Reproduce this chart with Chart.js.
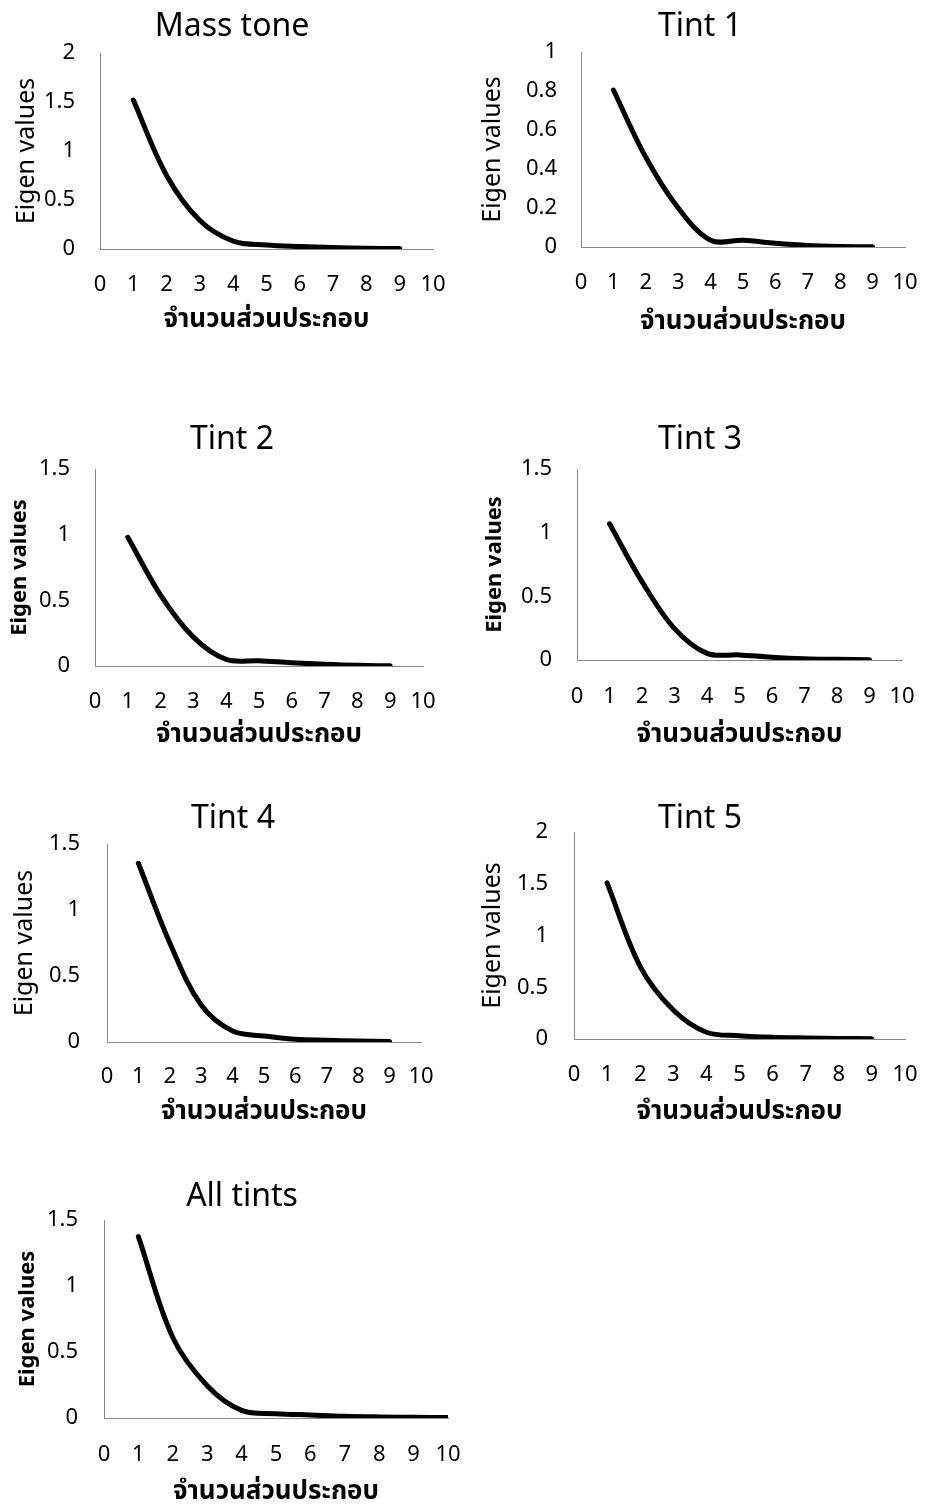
<!DOCTYPE html>
<html>
<head>
<meta charset="utf-8">
<script src="https://cdn.jsdelivr.net/npm/chart.js@4.4.1/dist/chart.umd.min.js"></script>
<style>
  html, body { margin: 0; padding: 0; background: #ffffff; }
  body { width: 925px; height: 1504px; position: relative; overflow: hidden; }
  canvas { position: absolute; }
</style>
</head>
<body>
<script>
// ---- data ----
const components9 = [1, 2, 3, 4, 5, 6, 7, 8, 9];
const components10 = [1, 2, 3, 4, 5, 6, 7, 8, 9, 10];
const massTone = [1.52, 0.75, 0.29, 0.08, 0.04, 0.025, 0.015, 0.008, 0.004];
const tint1 = [0.805, 0.46, 0.2, 0.035, 0.034, 0.019, 0.008, 0.003, 0.001];
const tint2 = [0.98, 0.54, 0.22, 0.05, 0.04, 0.025, 0.013, 0.005, 0.002];
const tint3 = [1.07, 0.615, 0.246, 0.052, 0.04, 0.022, 0.01, 0.005, 0.002];
const tint4 = [1.354, 0.75, 0.28, 0.083, 0.045, 0.02, 0.013, 0.008, 0.003];
const tint5 = [1.508, 0.7, 0.28, 0.065, 0.032, 0.016, 0.01, 0.006, 0.003];
const allTints = [1.374, 0.61, 0.245, 0.058, 0.033, 0.023, 0.013, 0.008, 0.005, 0.003];
const chartTitles = ['Mass tone', 'Tint 1', 'Tint 2', 'Tint 3', 'Tint 4', 'Tint 5', 'All tints'];
const yAxisTitle = 'Eigen values';
const xAxisTitle = 'จำนวนส่วนประกอบ';
const xTickRange = [0, 10];
const yMax = [2, 1, 1.5, 1.5, 1.5, 2, 1.5];
const yStep = [0.5, 0.2, 0.5, 0.5, 0.5, 0.5, 0.5];

// ---- layout (page pixels) ----
const layouts = [
  {x0:100, x1:433, y0:53,   y1:249,  tcx:232, tcy:25,   ytx:27,  tre:75,  xty:285,  xtt:320,  bold:false, right:false},
  {x0:581, x1:905, y0:52,   y1:247,  tcx:700, tcy:25,   ytx:493, tre:557, xty:283,  xtt:322,  bold:false, right:true},
  {x0:95,  x1:423, y0:469,  y1:666,  tcx:232, tcy:438,  ytx:20,  tre:70,  xty:702,  xtt:735,  bold:true,  right:false},
  {x0:577, x1:902, y0:469,  y1:660,  tcx:700, tcy:438,  ytx:495, tre:552, xty:697,  xtt:735,  bold:true,  right:true},
  {x0:107, x1:421, y0:844,  y1:1042, tcx:233, tcy:817,  ytx:25,  tre:80,  xty:1077, xtt:1112, bold:false, right:false},
  {x0:574, x1:905, y0:832,  y1:1039, tcx:700, tcy:817,  ytx:493, tre:548, xty:1075, xtt:1112, bold:false, right:true},
  {x0:104, x1:448, y0:1220, y1:1418, tcx:242, tcy:1195, ytx:28,  tre:78,  xty:1455, xtt:1492, bold:true,  right:false}
];
const seriesList = [massTone, tint1, tint2, tint3, tint4, tint5, allTints];
const xList = [components9, components9, components9, components9, components9, components9, components10];

const FAMILY = "'Noto Sans', 'Noto Sans Thai', 'Leelawadee UI', 'Open Sans', 'DejaVu Sans', sans-serif";
const TITLE_SIZE = 32, TICK_SIZE = 22, YT_SIZE = 25, YT_BOLD_SIZE = 22, XT_SIZE = 26, LH = 1.2;
const TITLE_SHIFT = 2;
const AXIS_COLOR = '#898989';

Chart.defaults.font.family = FAMILY;
Chart.defaults.color = '#000000';

const fmt = (v) => String(+Number(v).toFixed(2));

seriesList.forEach((vals, i) => {
  const g = layouts[i];
  let L, W;
  if (g.right) { W = 2 * (925 - g.tcx); L = 925 - W; }
  else { L = 0; W = 2 * g.tcx; }
  const T = g.tcy - 22;
  const xScaleBottom = g.xtt + XT_SIZE * LH / 2;
  const H = Math.ceil(xScaleBottom - T) + 2;
  const rightPad = L + W - g.x1;
  const ySize = g.bold ? YT_BOLD_SIZE : YT_SIZE;
  const canvas = document.createElement('canvas');
  canvas.width = W; canvas.height = H;
  canvas.style.left = L + 'px'; canvas.style.top = T + 'px';
  canvas.style.width = W + 'px'; canvas.style.height = H + 'px';
  document.body.appendChild(canvas);

  const points = xList[i].map((x, k) => ({x: x, y: vals[k]}));
  const tlh = TITLE_SIZE * LH;
  const tcy = g.tcy + TITLE_SHIFT;

  new Chart(canvas, {
    type: 'line',
    data: {
      datasets: [{
        data: points,
        yAxisID: 'y',
        borderColor: '#000000',
        borderWidth: 5,
        borderCapStyle: 'round',
        borderJoinStyle: 'round',
        pointRadius: 0,
        pointHoverRadius: 0,
        tension: 0.35,
        fill: false
      }]
    },
    options: {
      responsive: false,
      animation: false,
      devicePixelRatio: 1,
      events: [],
      layout: { padding: { left: 0, top: 0, right: 0, bottom: H - (xScaleBottom - T) } },
      plugins: {
        legend: { display: false },
        tooltip: { enabled: false },
        title: {
          display: true,
          text: chartTitles[i],
          color: '#000000',
          font: { size: TITLE_SIZE, weight: 'normal', lineHeight: LH },
          padding: { top: (tcy - T) - tlh / 2, bottom: g.y0 - tcy - tlh / 2 }
        }
      },
      scales: {
        x: {
          type: 'linear',
          min: xTickRange[0], max: xTickRange[1],
          grid: { display: false, drawTicks: true, tickLength: g.xty - g.y1 - TICK_SIZE * LH / 2 },
          border: { display: true, color: AXIS_COLOR, width: 1 },
          ticks: { stepSize: 1, padding: 0, font: { size: TICK_SIZE, lineHeight: LH }, color: '#000000', maxRotation: 0, autoSkip: false, callback: fmt },
          title: { display: true, text: xAxisTitle, color: '#000000', font: { size: XT_SIZE, weight: 'bold', lineHeight: LH }, padding: { top: 0, bottom: 0 } },
          afterFit: (s) => { s.height = xScaleBottom - g.y1; }
        },
        y: {
          type: 'linear',
          position: 'left',
          min: 0, max: yMax[i],
          grid: { display: false, drawTicks: true, tickLength: g.x0 - g.tre },
          border: { display: true, color: AXIS_COLOR, width: 1 },
          ticks: { stepSize: yStep[i], padding: 0, font: { size: TICK_SIZE, lineHeight: LH }, color: '#000000', callback: fmt },
          title: { display: true, text: yAxisTitle, color: '#000000', font: { size: ySize, weight: g.bold ? 'bold' : 'normal', lineHeight: LH }, padding: { top: g.ytx - L - ySize * LH / 2, bottom: 0 } },
          afterFit: (s) => { s.width = g.x0 - L; }
        },
        yRight: {
          type: 'linear',
          position: 'right',
          min: 0, max: 1,
          display: true,
          grid: { display: false, drawTicks: false },
          border: { display: false },
          ticks: { display: false, padding: 0 },
          title: { display: false },
          afterFit: (s) => { s.width = rightPad; }
        }
      }
    }
  });
});
</script>
</body>
</html>
